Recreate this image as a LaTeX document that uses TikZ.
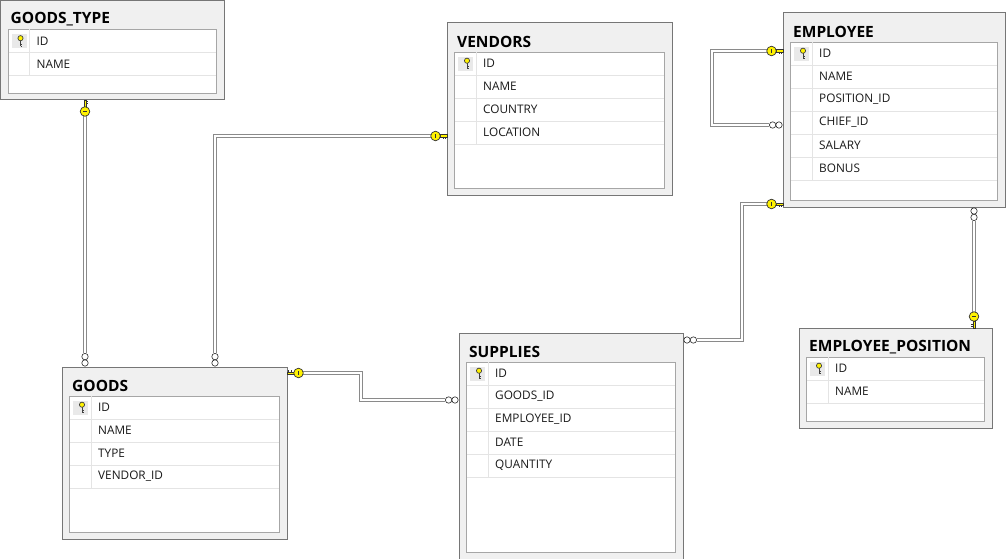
\documentclass[tikz,border=0pt]{standalone}
\usepackage{fontspec}
\setmainfont{Open Sans}
\usetikzlibrary{calc}

\definecolor{boxgray}{HTML}{F0F0F0}
\definecolor{framegray}{HTML}{767676}
\definecolor{innergray}{HTML}{A6A6A6}
\definecolor{rowline}{HTML}{E4E4E4}
\definecolor{keycell}{HTML}{E9E9E9}
\definecolor{keyyellow}{HTML}{FFF200}
\definecolor{linkgray}{HTML}{8A8A8A}

\tikzset{
  tablebox/.style={draw=framegray, fill=boxgray, line width=1pt, inner sep=0pt, outer sep=0pt, anchor=north west},
  tabletitle/.style={font=\bfseries\fontsize{15.5}{17}\selectfont, anchor=west, inner sep=0pt},
  fieldtext/.style={font=\fontsize{11.8}{14}\selectfont, anchor=west, inner sep=0pt, text=black!90},
  relation/.style={draw=linkgray, double=white, double distance=1.8pt, line width=1.3pt,
    shorten <=14pt, shorten >=14pt},
  rowkey/.pic={
    \draw[black!75, line width=0.7pt] (0,0) -- (0,5.5) (0,3.5) -- (1.8,3.5) (0,5.5) -- (1.8,5.5);
    \filldraw[fill=keyyellow, draw=black!75, line width=0.7pt] (0,-2.3) circle (2.6);
  },
  keytip/.pic={
    \filldraw[fill=keyyellow, draw=black!80, line width=0.6pt] (-7,-1.2) rectangle (0,1.2);
    \draw[black!80, line width=0.6pt] (-3.8,1.2) -- (-3.8,3) (-1.6,1.2) -- (-1.6,3);
    \filldraw[fill=keyyellow, draw=black!80, line width=0.7pt] (-11.5,0) circle (4.8);
    \draw[black!80, line width=0.9pt] (-11.5,-1.8) -- (-11.5,1.8);
  },
  manytip/.pic={
    \filldraw[fill=white, draw=black!85, line width=0.6pt] (-4,0) circle (3.2) (-10.4,0) circle (3.2);
  }
}

% name, x, y, width, height, title, fields
\newcommand{\dbtable}[7]{%
  \node[tablebox, minimum width=#4pt, minimum height=#5pt] (#1) at (#2,#3) {};
  \node[tabletitle] (#1-title) at (#2+10,#3+19) {#6};
  \filldraw[fill=white, draw=innergray, line width=0.8pt] (#2+7.5,#3+29) rectangle (#2+#4-8,#3+#5-7);
  \fill[keycell] (#2+11,#3+34) rectangle (#2+26,#3+48);
  \foreach \fld [count=\i] in {#7} {
    \node[fieldtext] (#1-\i) at (#2+36,{#3+29+23*\i-11.5}) {\fld};
    \draw[rowline] (#2+8,{#3+29+23*\i}) -- (#2+#4-8.5,{#3+29+23*\i});
    \draw[rowline] (#2+29,{#3+29+23*(\i-1)}) -- (#2+29,{#3+29+23*\i});
  }
  \pic at (#2+20,#3+40) {rowkey};
}

\begin{document}
\begin{tikzpicture}[x=1pt,y=-1pt]
  \useasboundingbox (0,0) rectangle (1006,559);

  \dbtable{goodstype}{0.5}{0.5}{223.5}{99.5}{GOODS\_TYPE}{ID, NAME}
  \dbtable{vendors}{447}{23}{225}{172}{VENDORS}{ID, NAME, COUNTRY, LOCATION}
  \dbtable{employee}{783}{13}{222.5}{194}{EMPLOYEE}{ID, NAME, POSITION\_ID, CHIEF\_ID, SALARY, BONUS}
  \dbtable{emppos}{799}{328}{193}{100}{EMPLOYEE\_POSITION}{ID, NAME}
  \dbtable{goods}{62}{367}{225}{172}{GOODS}{ID, NAME, TYPE, VENDOR\_ID}
  \dbtable{supplies}{459}{333}{224}{226}{SUPPLIES}{ID, GOODS\_ID, EMPLOYEE\_ID, DATE, QUANTITY}

  \draw[relation] (85,0 |- goodstype.south) -- (85,0 |- goods.north);
  \draw[relation] (vendors.west |- 0,136) -| (215,0 |- goods.north);
  \draw[relation] (goods.east |- 0,373) -| (361,386) |- (supplies.west |- 0,400);
  \draw[relation] (employee.west |- 0,204) -| (742,270) |- (supplies.east |- 0,340);
  \draw[relation] (employee.west |- 0,51) -| (712,90) |- (employee.west |- 0,125);
  \draw[relation] (974,0 |- employee.south) -- (974,0 |- emppos.north);

  \pic[rotate=90] at (85,0 |- goodstype.south) {keytip};
  \pic[rotate=-90] at (85,0 |- goods.north) {manytip};
  \pic at (vendors.west |- 0,136) {keytip};
  \pic[rotate=-90] at (215,0 |- goods.north) {manytip};
  \pic[rotate=180] at (goods.east |- 0,373) {keytip};
  \pic at (supplies.west |- 0,400) {manytip};
  \pic at (employee.west |- 0,204) {keytip};
  \pic[rotate=180] at (supplies.east |- 0,340) {manytip};
  \pic at (employee.west |- 0,51) {keytip};
  \pic at (employee.west |- 0,125) {manytip};
  \pic[rotate=90] at (974,0 |- employee.south) {manytip};
  \pic[rotate=-90] at (974,0 |- emppos.north) {keytip};
\end{tikzpicture}
\end{document}
